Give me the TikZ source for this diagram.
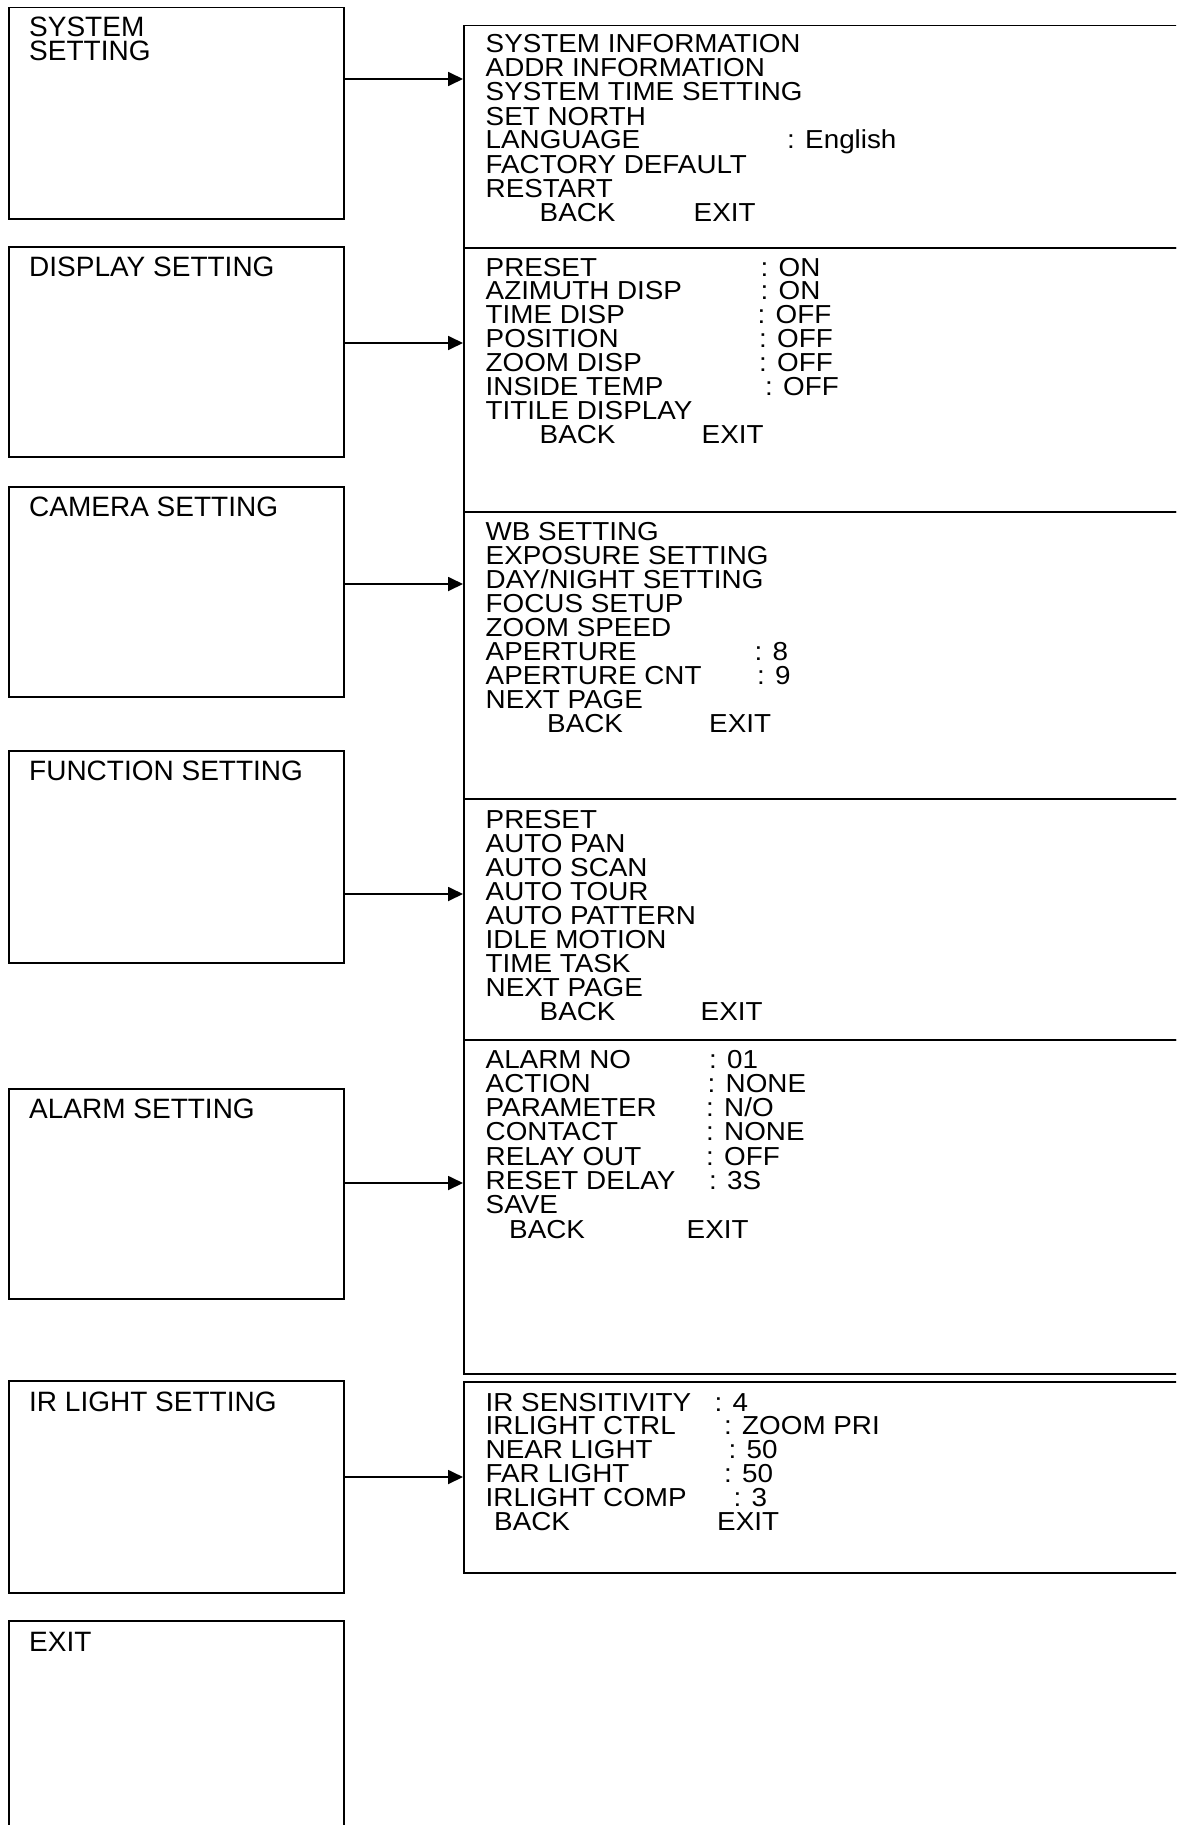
\documentclass[tikz,border=0pt]{standalone}
\usepackage{fontspec}
\setmainfont{Liberation Sans}
\newfontfamily\wideitem[FakeStretch=1.07]{Liberation Sans}
\usetikzlibrary{arrows.meta}
\begin{document}
\begin{tikzpicture}[x=1pt,y=-1pt,
  box/.style={draw, line width=1.5pt, anchor=north west, inner sep=0pt},
  lab/.style={anchor=base west, inner sep=0pt, text height=20pt, text depth=1pt, font=\fontsize{28}{24}\selectfont},
  item/.style={anchor=base west, inner sep=0pt, text height=19pt, text depth=1pt, font=\wideitem\fontsize{26}{24}\selectfont},
  arr/.style={line width=1.8pt, -{Triangle[length=15pt,width=14pt]}}]
\useasboundingbox (0,0) rectangle (1176,1825);
\clip (0,0) rectangle (1176,1825);
% left boxes
\node[box, minimum width=335pt, minimum height=211pt] (b1) at (8,7) {};
\node[box, minimum width=335pt, minimum height=210pt] (b2) at (8,246) {};
\node[box, minimum width=335pt, minimum height=210pt] (b3) at (8,486) {};
\node[box, minimum width=335pt, minimum height=212pt] (b4) at (8,750) {};
\node[box, minimum width=335pt, minimum height=210pt] (b5) at (8,1088) {};
\node[box, minimum width=335pt, minimum height=212pt] (b6) at (8,1380) {};
\node[box, minimum width=335pt, minimum height=240pt] (b7) at (8,1620) {};
\node[lab] (l1a) at (29,37) {SYSTEM};
\node[lab, text height=19pt] (l1b) at (29,61) {SETTING};
\node[lab] (l2) at (29,276) {DISPLAY SETTING};
\node[lab] (l3) at (29,516) {CAMERA SETTING};
\node[lab] (l4) at (29,780) {FUNCTION SETTING};
\node[lab] (l5) at (29,1118) {ALARM SETTING};
\node[lab] (l6) at (29,1411) {IR LIGHT SETTING};
\node[lab] (l7) at (29,1651) {EXIT};
% right panels
\node[box, minimum width=800pt, minimum height=222pt] (p1) at (463,25) {};
\node[box, minimum width=800pt, minimum height=264pt] (p2) at (463,247) {};
\node[box, minimum width=800pt, minimum height=287pt] (p3) at (463,511) {};
\node[box, minimum width=800pt, minimum height=241pt] (p4) at (463,798) {};
\node[box, minimum width=800pt, minimum height=334pt] (p5) at (463,1039) {};
\node[box, minimum width=800pt, minimum height=191pt] (p6) at (463,1381) {};
% arrows
\coordinate (y1) at (0,79);
\coordinate (y2) at (0,343);
\coordinate (y3) at (0,584);
\coordinate (y4) at (0,894);
\coordinate (y5) at (0,1183);
\coordinate (y6) at (0,1477);
\draw[arr] (b1.east |- y1) -- (p1.west |- y1);
\draw[arr] (b2.east |- y2) -- (p2.west |- y2);
\draw[arr] (b3.east |- y3) -- (p3.west |- y3);
\draw[arr] (b4.east |- y4) -- (p4.west |- y4);
\draw[arr] (b5.east |- y5) -- (p5.west |- y5);
\draw[arr] (b6.east |- y6) -- (p6.west |- y6);
% panel 1
\foreach \t [count=\i from 0] in {SYSTEM INFORMATION,ADDR INFORMATION,SYSTEM TIME SETTING,SET NORTH,LANGUAGE,FACTORY DEFAULT,RESTART}
  \node[item] (pa\i) at (485.5,{53+24*\i}) {\t};
\node[item] (pav) at (787,149) {: English};
\node[item] (pab) at (539.5,221) {BACK};
\node[item] (pae) at (693.5,221) {EXIT};
% panel 2
\foreach \t [count=\i from 0] in {PRESET,AZIMUTH DISP,TIME DISP,POSITION,ZOOM DISP,INSIDE TEMP,TITILE DISPLAY}
  \node[item] (pb\i) at (485.5,{276+23.9*\i}) {\t};
\foreach \x/\t [count=\i from 0] in {760.5/ON,760.5/ON,757.5/OFF,759/OFF,759/OFF,765/OFF}
  \node[item] (pbv\i) at (\x,{276+23.9*\i}) {: \t};
\node[item] (pbb) at (539.5,443) {BACK};
\node[item] (pbe) at (701.5,443) {EXIT};
% panel 3
\foreach \t [count=\i from 0] in {WB SETTING,EXPOSURE SETTING,DAY/NIGHT SETTING,FOCUS SETUP,ZOOM SPEED,APERTURE,APERTURE CNT,NEXT PAGE}
  \node[item] (pc\i) at (485.5,{540+24*\i}) {\t};
\node[item] (pcv5) at (754.5,660) {: 8};
\node[item] (pcv6) at (757,684) {: 9};
\node[item] (pcb) at (547,732) {BACK};
\node[item] (pce) at (709,732) {EXIT};
% panel 4
\foreach \t [count=\i from 0] in {PRESET,AUTO PAN,AUTO SCAN,AUTO TOUR,AUTO PATTERN,IDLE MOTION,TIME TASK,NEXT PAGE}
  \node[item] (pd\i) at (485.5,{828+24*\i}) {\t};
\node[item] (pdb) at (539.5,1020) {BACK};
\node[item] (pde) at (700.5,1020) {EXIT};
% panel 5
\foreach \t [count=\i from 0] in {ALARM NO,ACTION,PARAMETER,CONTACT,RELAY OUT,RESET DELAY,SAVE}
  \node[item] (pe\i) at (485.5,{1068+24.3*\i}) {\t};
\node[item] (pev0) at (709,1068) {: 01};
\node[item] (pev1) at (707.5,1092.3) {: NONE};
\node[item] (pev2) at (706,1116.6) {: N/O};
\node[item] (pev3) at (706,1140.9) {: NONE};
\node[item] (pev4) at (706,1165.2) {: OFF};
\node[item] (pev5) at (709,1189.5) {: 3S};
\node[item] (peb) at (509,1238) {BACK};
\node[item] (pee) at (686.5,1238) {EXIT};
% panel 6
\foreach \t [count=\i from 0] in {IR SENSITIVITY,IRLIGHT CTRL,NEAR LIGHT,FAR LIGHT,IRLIGHT COMP}
  \node[item] (pf\i) at (485.5,{1411+23.9*\i}) {\t};
\node[item] (pfv0) at (714.5,1411) {: 4};
\node[item] (pfv1) at (724,1434.9) {: ZOOM PRI};
\node[item] (pfv2) at (728.5,1458.8) {: 50};
\node[item] (pfv3) at (724,1482.7) {: 50};
\node[item] (pfv4) at (733.5,1506.6) {: 3};
\node[item] (pfb) at (494,1530) {BACK};
\node[item] (pfe) at (717,1530) {EXIT};
\end{tikzpicture}
\end{document}
